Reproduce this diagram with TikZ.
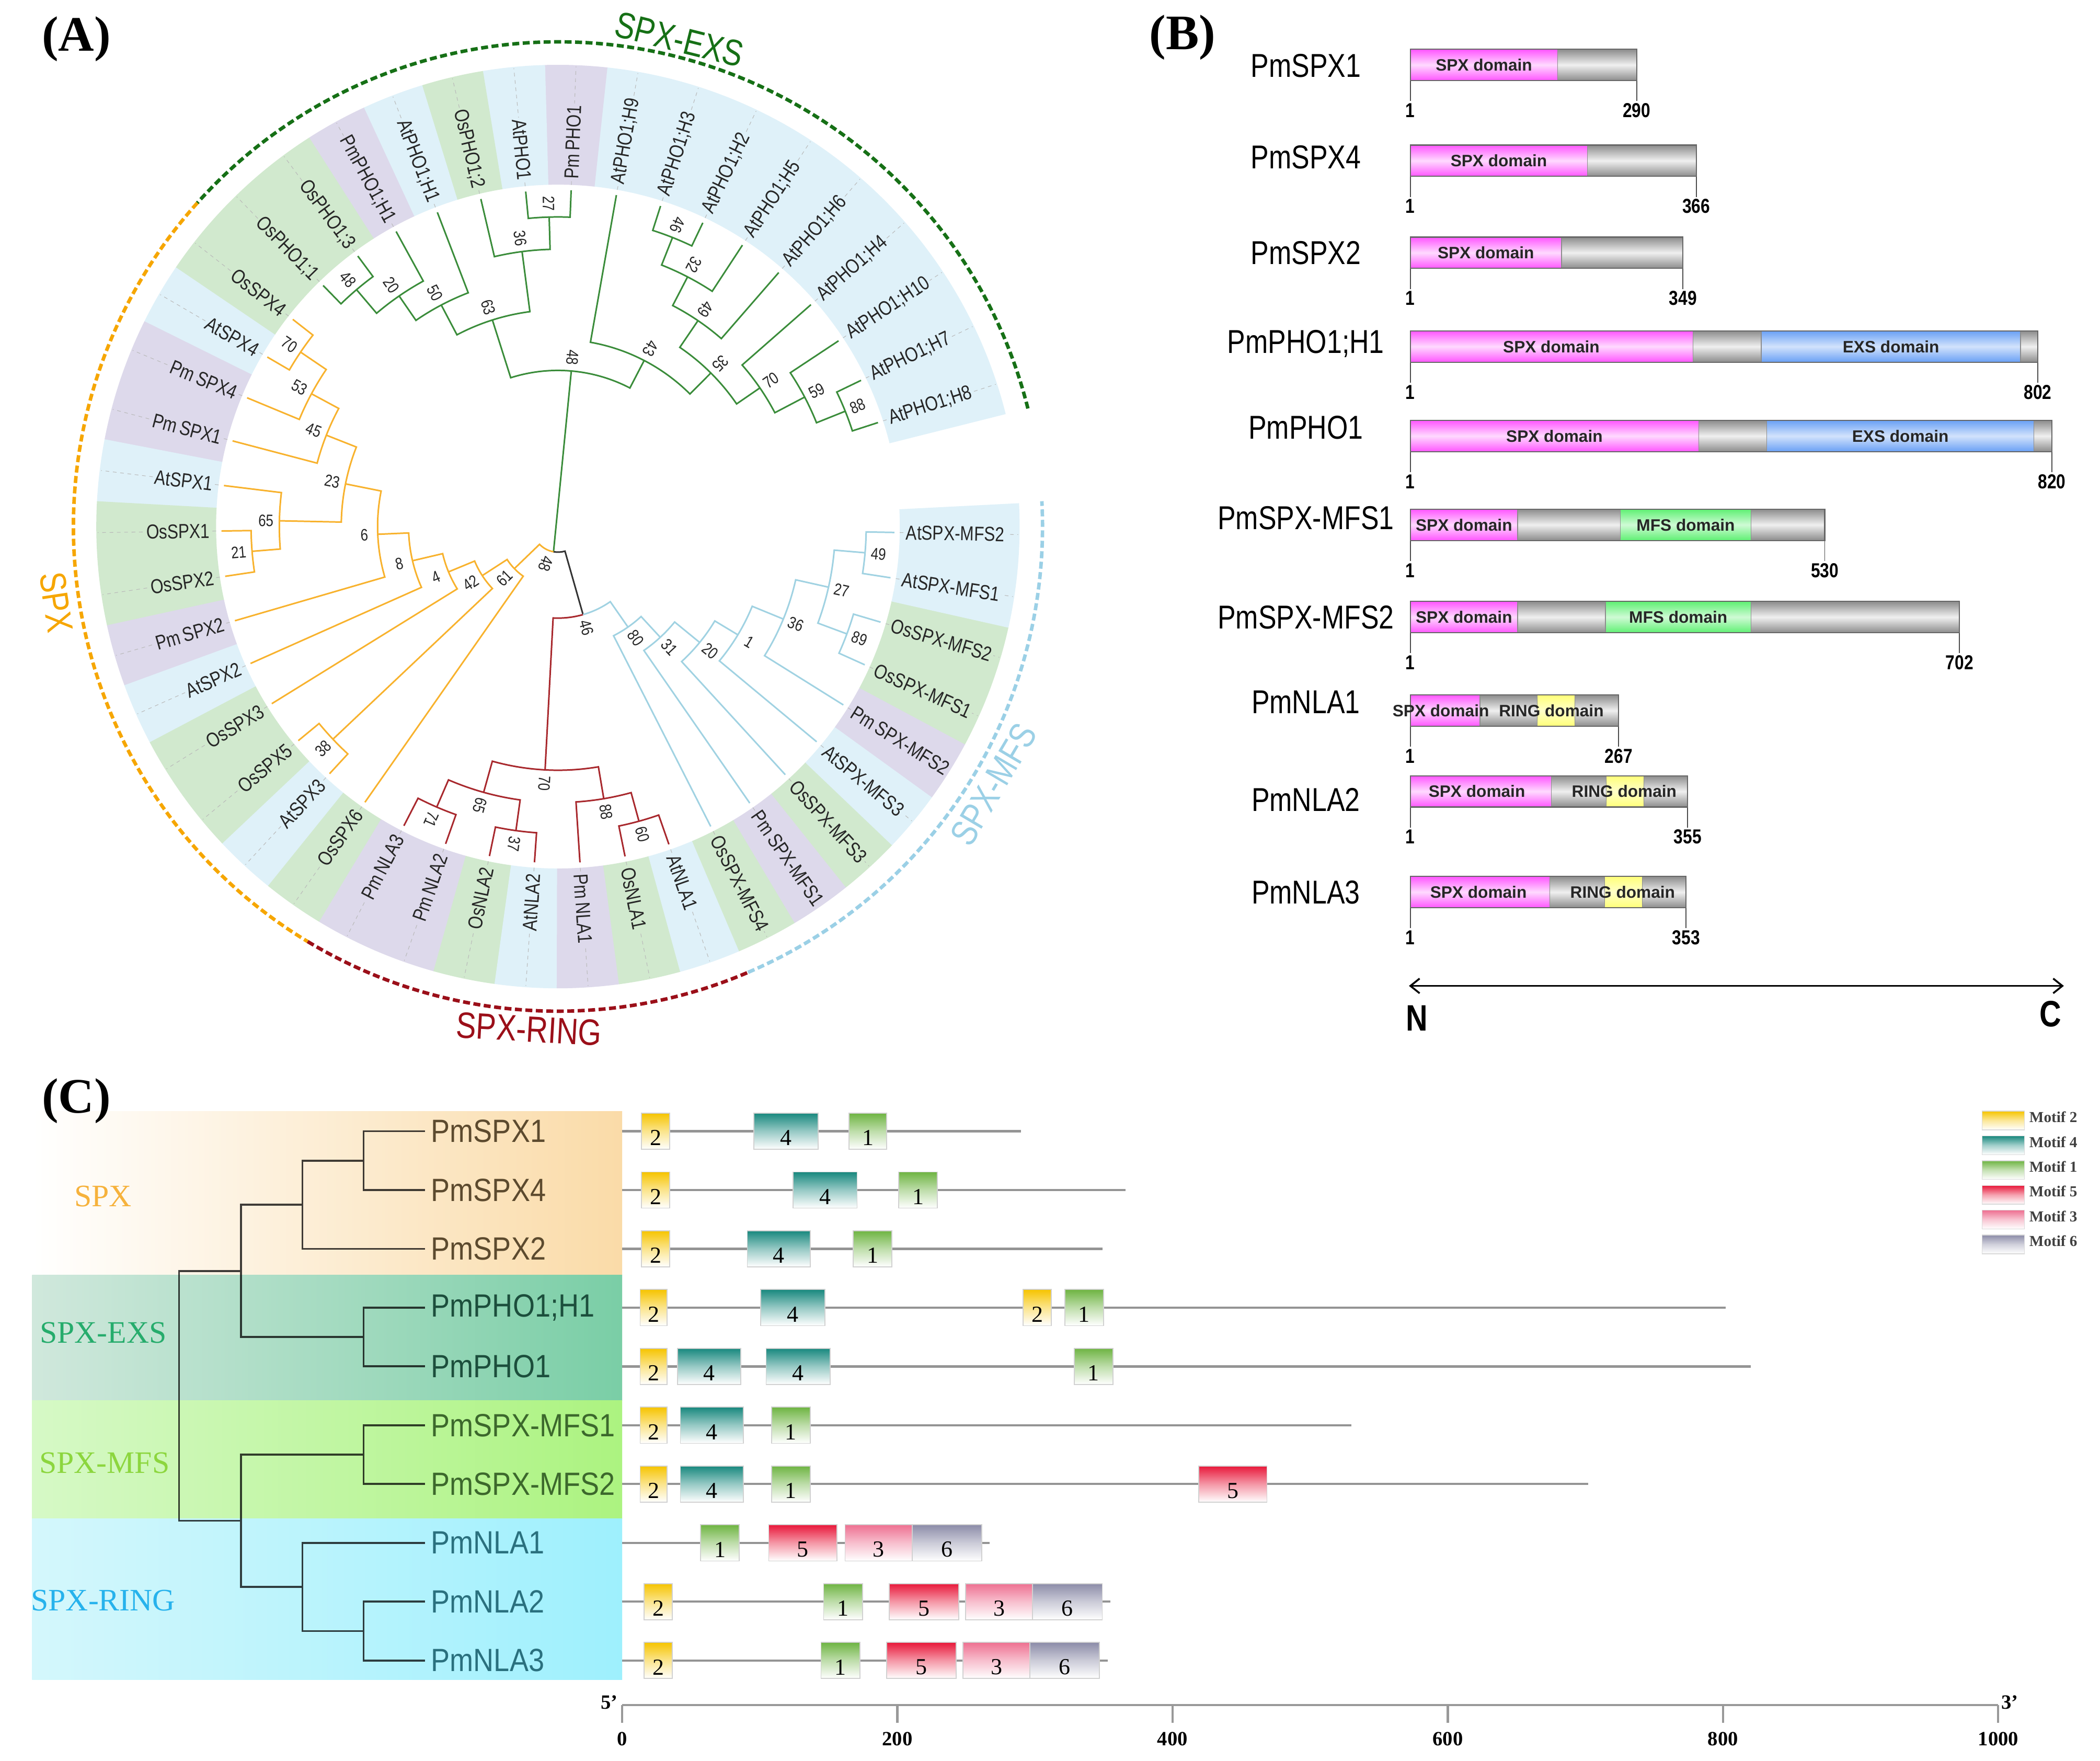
\documentclass[tikz,border=0pt]{standalone}
\usepackage{fontspec}
\setmainfont{Liberation Serif}
\setsansfont{Liberation Sans}
\newfontfamily\condsans[FakeStretch=0.82]{Liberation Sans}
\newfontfamily\condC[FakeStretch=0.88]{Liberation Sans}
\usetikzlibrary{arrows.meta}

% one clade of the circular tree: child a (angle, radius), child b, node radius
\newcommand\clade[6]{\draw[#6] (#1:#2) -- (#1:#5) arc[start angle=#1, end angle=#3, radius=#5] -- (#3:#4);}
% x position of residue in panel B
\newcommand\bx[1]{1053+0.585*(#1-1)}
\newcommand\dom[4]{\shade[#4] ({\bx{#1}},{#3-11.7}) rectangle ({\bx{#2}},{#3+11.7});}

\begin{document}
\begin{tikzpicture}[x=0.025619cm, y=-0.025619cm]

  \definecolor{At}{RGB}{223,241,249}
  \definecolor{Os}{RGB}{209,233,206}
  \definecolor{Pm}{RGB}{221,217,235}
  \definecolor{exsline}{RGB}{58,140,58}
  \definecolor{spxline}{RGB}{248,178,45}
  \definecolor{ringline}{RGB}{168,40,45}
  \definecolor{mfsline}{RGB}{160,210,226}
  \definecolor{exsdash}{RGB}{22,112,22}
  \definecolor{spxdash}{RGB}{246,166,0}
  \definecolor{ringdash}{RGB}{155,15,25}
  \definecolor{mfsdash}{RGB}{155,208,230}
  \definecolor{spxpink}{RGB}{255,85,255}
  \definecolor{exsblue}{RGB}{105,160,245}
  \definecolor{mfsgreen}{RGB}{95,240,115}
  \definecolor{ringyel}{RGB}{255,255,120}
  \definecolor{bargrey}{RGB}{140,140,140}
  \definecolor{mot2}{RGB}{246,196,0}
  \definecolor{mot4}{RGB}{24,136,126}
  \definecolor{mot1}{RGB}{110,180,66}
  \definecolor{mot5}{RGB}{232,24,58}
  \definecolor{mot3}{RGB}{238,112,145}
  \definecolor{mot6}{RGB}{140,140,168}
  \definecolor{spxband}{RGB}{250,219,168}
  \definecolor{exsL}{RGB}{208,232,220}
  \definecolor{exsR}{RGB}{122,206,166}
  \definecolor{mfsL}{RGB}{214,249,198}
  \definecolor{mfsR}{RGB}{172,243,128}
  \definecolor{ringL}{RGB}{212,247,252}
  \definecolor{ringR}{RGB}{158,240,253}
  \definecolor{spxtxt}{RGB}{246,178,60}
  \definecolor{exstxt}{RGB}{38,172,108}
  \definecolor{mfstxt}{RGB}{140,214,62}
  \definecolor{ringtxt}{RGB}{38,178,236}
  \definecolor{spxleaf}{RGB}{92,74,46}
  \definecolor{exsleaf}{RGB}{28,78,60}
  \definecolor{mfsleaf}{RGB}{60,104,44}
  \definecolor{ringleaf}{RGB}{42,112,126}

  \tikzset{
    panel/.style={font=\rmfamily\bfseries\fontsize{27}{30}\selectfont, inner sep=0pt},
    leaf/.style={font=\condsans\fontsize{11}{12}\selectfont, text=black!85, inner sep=1pt},
    boot/.style={font=\condsans\fontsize{9}{10}\selectfont, text=black!85, inner sep=0.5pt},
    grplab/.style={font=\condsans\fontsize{20}{22}\selectfont, inner sep=0pt},
    guide/.style={gray!55, line width=0.3pt, dash pattern=on 2pt off 2pt},
    grpdash/.style={line width=1.9pt, dash pattern=on 3.8pt off 1.9pt},
    exsbr/.style={exsline, line width=0.85pt},
    spxbr/.style={spxline, line width=0.85pt},
    ringbr/.style={ringline, line width=0.85pt},
    mfsbr/.style={mfsline, line width=0.85pt},
    rootbr/.style={black!80, line width=0.85pt},
    bname/.style={font=\condsans\fontsize{18}{20}\selectfont, inner sep=0pt},
    bnum/.style={font=\condsans\bfseries\fontsize{11}{12}\selectfont, inner sep=0pt},
    domtxt/.style={font=\sffamily\bfseries\fontsize{9}{10}\selectfont, text=black!85, inner sep=0pt},
    greydom/.style={top color=bargrey, bottom color=bargrey, middle color=black!6},
    spxdom/.style={top color=spxpink, bottom color=spxpink, middle color=spxpink!22, draw=black!45, line width=0.4pt},
    exsdom/.style={top color=exsblue, bottom color=exsblue, middle color=exsblue!30, draw=black!45, line width=0.4pt},
    mfsdom/.style={top color=mfsgreen, bottom color=mfsgreen, middle color=mfsgreen!30, draw=black!45, line width=0.4pt},
    ringdom/.style={top color=ringyel, bottom color=ringyel, middle color=ringyel!40, draw=black!45, line width=0.4pt},
    barline/.style={draw=black!60, line width=0.6pt},
    btick/.style={black!70, line width=0.5pt},
    ncfont/.style={font=\condsans\bfseries\fontsize{20}{22}\selectfont, inner sep=0pt},
    grpC/.style={font=\rmfamily\fontsize{17}{19}\selectfont, inner sep=0pt},
    leafC/.style={font=\condC\fontsize{17.5}{19}\selectfont, inner sep=3pt, anchor=west},
    ctree/.style={draw=black, draw opacity=0.75, line width=1.1pt},
    protline/.style={draw=black!42, line width=1.2pt},
    motnum/.style={font=\rmfamily\fontsize{12.5}{14}\selectfont, inner sep=0pt},
    legtxt/.style={font=\rmfamily\bfseries\fontsize{8.3}{9}\selectfont, text=black!75, inner sep=0pt, anchor=west},
    axline/.style={draw=black!40, line width=1.2pt},
    axnum/.style={font=\rmfamily\bfseries\fontsize{11}{12}\selectfont, inner sep=0pt}
  }

  \fill[white] (0,0) rectangle (1568,1314.6);
  \useasboundingbox (0,0) rectangle (1568,1314.6);

  %% (A) circular tree
  \node[panel] (labA) at (57,29) {(A)};
  \begin{scope}[shift={(416.6,393.1)}, y=0.025619cm, scale=1.005]
    % label wedges and leaf names
    \foreach \kk/\spc/\lab in {0/At/AtPHO1;H8, 1/At/AtPHO1;H7, 2/At/AtPHO1;H10, 3/At/AtPHO1;H4,
        4/At/AtPHO1;H6, 5/At/AtPHO1;H5, 6/At/AtPHO1;H2, 7/At/AtPHO1;H3, 8/At/AtPHO1;H9,
        9/Pm/Pm\,PHO1, 10/At/AtPHO1, 11/Os/OsPHO1;2, 12/At/AtPHO1;H1, 13/Pm/PmPHO1;H1,
        14/Os/OsPHO1;3, 15/Os/OsPHO1;1, 16/Os/OsSPX4, 17/At/AtSPX4, 18/Pm/Pm\,SPX4,
        19/Pm/Pm\,SPX1, 20/At/AtSPX1, 21/Os/OsSPX1, 22/Os/OsSPX2, 23/Pm/Pm\,SPX2,
        24/At/AtSPX2, 25/Os/OsSPX3, 26/Os/OsSPX5, 27/At/AtSPX3, 28/Os/OsSPX6,
        29/Pm/Pm\,NLA3, 30/Pm/Pm\,NLA2, 31/Os/OsNLA2, 32/At/AtNLA2, 33/Pm/Pm\,NLA1,
        34/Os/OsNLA1, 35/At/AtNLA1, 36/Os/OsSPX-MFS4, 37/Pm/Pm\,SPX-MFS1, 38/Os/OsSPX-MFS3,
        39/At/AtSPX-MFS3, 40/Pm/Pm\,SPX-MFS2, 41/Os/OsSPX-MFS1, 42/Os/OsSPX-MFS2,
        43/At/AtSPX-MFS1, 44/At/AtSPX-MFS2} {
      \pgfmathsetmacro\leafang{18+7.75*\kk}
      \pgfmathsetmacro\angL{\leafang-3.9}
      \pgfmathsetmacro\angR{\leafang+3.9}
      \fill[\spc] (\angL:254) arc[start angle=\angL, end angle=\angR, radius=254]
        -- (\angR:343) arc[start angle=\angR, end angle=\angL, radius=343] -- cycle;
      \draw[guide] (\leafang:254) -- (\leafang:342);
      \pgfmathtruncatemacro\flip{(\leafang>90)&&(\leafang<270)}
      \ifnum\flip=1
        \node[leaf, fill=\spc, rotate=\leafang-180, anchor=east] (L\kk) at (\leafang:257) {\lab};
      \else
        \node[leaf, fill=\spc, rotate=\leafang, anchor=west] (L\kk) at (\leafang:257) {\lab};
      \fi
    }

    % SPX-EXS clade
    \clade{18}{250}{25.75}{250}{230}{exsbr}
    \clade{21.875}{230}{33.5}{250}{207}{exsbr}
    \clade{27.69}{207}{41.25}{250}{182}{exsbr}
    \clade{64.5}{250}{72.25}{250}{231}{exsbr}
    \clade{56.75}{250}{68.375}{231}{209}{exsbr}
    \clade{49}{250}{62.56}{209}{185}{exsbr}
    \clade{34.47}{182}{55.78}{185}{161}{exsbr}
    \clade{45.125}{161}{80}{250}{139}{exsbr}
    \clade{87.75}{250}{95.5}{250}{230}{exsbr}
    \clade{91.625}{230}{103.25}{250}{206}{exsbr}
    \clade{126.5}{250}{134.25}{250}{231}{exsbr}
    \clade{118.75}{250}{130.375}{231}{208}{exsbr}
    \clade{111}{250}{124.56}{208}{186}{exsbr}
    \clade{97.44}{206}{117.78}{186}{161}{exsbr}
    \clade{62.56}{139}{107.61}{161}{116}{exsbr}
    \draw[exsbr] (260:19) -- (85.09:116);

    % SPX clade
    \clade{142}{250}{149.75}{250}{231}{spxbr}
    \clade{145.875}{231}{157.5}{250}{208}{spxbr}
    \clade{151.69}{208}{165.25}{250}{185}{spxbr}
    \clade{180.75}{250}{188.5}{250}{228}{spxbr}
    \clade{173}{250}{184.625}{228}{207}{spxbr}
    \clade{158.47}{185}{178.81}{207}{161}{spxbr}
    \clade{168.64}{161}{196.25}{250}{134}{spxbr}
    \clade{182.45}{134}{204}{250}{111}{spxbr}
    \clade{193.22}{111}{211.75}{250}{88}{spxbr}
    \clade{219.5}{250}{227.25}{250}{230}{spxbr}
    \clade{202.49}{88}{223.375}{230}{67}{spxbr}
    \clade{212.93}{67}{235}{250}{45}{spxbr}
    \draw[spxbr] (223.97:45) -- (223.97:19) arc[start angle=223.97, end angle=260, radius=19];
    \draw[rootbr] (260:19) arc[start angle=260, end angle=285.92, radius=19] -- (285.92:68);

    % SPX-RING clade
    \clade{242.75}{250}{250.5}{250}{227}{ringbr}
    \clade{258.25}{250}{266}{250}{228}{ringbr}
    \clade{246.625}{227}{262.125}{228}{205}{ringbr}
    \clade{281.5}{250}{289.25}{250}{227}{ringbr}
    \clade{273.75}{250}{285.375}{227}{205}{ringbr}
    \clade{254.375}{205}{279.56}{205}{181}{ringbr}
    \draw[ringbr] (266.97:181) -- (266.97:68) arc[start angle=266.97, end angle=285.92, radius=68];
    \draw[mfsbr] (285.92:68) arc[start angle=285.92, end angle=304.87, radius=68] -- (304.87:91);

    % SPX-MFS clade
    \clade{351.25}{250}{359}{250}{229}{mfsbr}
    \clade{335.75}{250}{343.5}{250}{229}{mfsbr}
    \clade{339.625}{229}{355.125}{229}{206}{mfsbr}
    \clade{328}{250}{347.375}{206}{181}{mfsbr}
    \clade{320.25}{250}{337.69}{181}{156}{mfsbr}
    \clade{312.5}{250}{328.97}{156}{136}{mfsbr}
    \clade{304.75}{250}{320.73}{136}{112}{mfsbr}
    \clade{297}{250}{312.74}{112}{91}{mfsbr}

    % bootstrap values
    \foreach \nm/\ang/\rad/\val in {bA/21.875/230/88, bB/27.69/207/59, bC/34.47/182/70,
        bD/68.375/231/46, bE/62.56/209/32, bF/55.78/185/49, bG/45.125/161/35, bH/62.56/139/43,
        bI/91.625/230/27, bJ/97.44/206/36, bK/130.375/231/48, bL/124.56/208/20, bM/117.78/186/50,
        bN/107.61/161/63, bO/85.09/116/48, bP/145.875/231/70, bQ/151.69/208/53, bR/158.47/185/45,
        bS/184.625/228/21, bT/178.81/207/65, bU/168.64/161/23, bV/182.45/134/6, bW/193.22/111/8,
        bX/202.49/88/4, bY/223.375/230/38, bZ/212.93/67/42, ba/223.97/45/61, bb/252/19/48,
        bc/246.625/227/71, bd/262.125/228/37, be/254.375/205/65, bf/285.375/227/60,
        bg/279.56/205/88, bh/266.97/181/70, bi/285.92/68/46, bj/355.125/229/49,
        bk/339.625/229/89, bl/347.375/206/27, bm/337.69/181/36, bn/328.97/156/1,
        bo/320.73/136/20, bp/312.74/112/31, bq/304.87/91/80} {
      \pgfmathsetmacro\br{\rad+10}
      \pgfmathsetmacro\bA{(\ang<45)*\ang + (\ang>45)*(\ang<225)*(\ang-180) + (\ang>225)*(\ang-360)}
      \node[boot, rotate=\bA] (\nm) at (\ang:\br) {\val};
    }

    % group arcs
    \draw[grpdash, exsdash] (14.1:360) arc[start angle=14.1, end angle=138.1, radius=360];
    \draw[grpdash, spxdash] (138.1:360) arc[start angle=138.1, end angle=238.9, radius=360];
    \draw[grpdash, ringdash] (238.9:360) arc[start angle=238.9, end angle=293.1, radius=360];
    \draw[grpdash, mfsdash] (293.1:360) arc[start angle=293.1, end angle=363, radius=360];
    \node[grplab, text=exsdash, rotate=-14] (gEXS) at (76:373) {SPX-EXS};
    \node[grplab, text=spxdash, rotate=-81.4] (gSPX) at (188.6:377) {SPX};
    \node[grplab, text=ringdash, rotate=-3.3] (gRING) at (266.7:374) {SPX-RING};
    \node[grplab, text=mfsdash, rotate=59.4] (gMFS) at (329.4:376) {SPX-MFS};
  \end{scope}

  %% (B) domain architecture
  \node[panel] (labB) at (883,28) {(B)};
  \foreach \idx/\y/\ny/\nm/\len in {1/48.5/49/PmSPX1/290, 2/120/117.5/PmSPX4/366,
      3/188.7/188.7/PmSPX2/349, 4/258.7/256.6/PmPHO1;H1/802, 5/325.5/319/PmPHO1/820,
      6/391.8/386.7/PmSPX-MFS1/530, 7/460.7/460.7/PmSPX-MFS2/702, 8/530.5/524/PmNLA1/267,
      9/590.8/597/PmNLA2/355, 10/666/666/PmNLA3/353} {
    \pgfmathsetmacro\ex{\bx{\len}}
    \dom{1}{\len}{\y}{greydom}
    \node[bname] (bn\idx) at (975,\ny) {\nm};
    \draw[btick] (1053,\y+11.7) -- (1053,\y+27);
    \draw[btick] (\ex,\y+11.7) -- (\ex,\y+27);
    \node[bnum] (bs\idx) at (1053,\y+34) {1};
    \node[bnum] (be\idx) at (\ex,\y+34) {\len};
  }
  \dom{1}{189}{48.5}{spxdom}
  \dom{1}{227}{120}{spxdom}
  \dom{1}{194}{188.7}{spxdom}
  \dom{1}{362}{258.7}{spxdom} \dom{449}{780}{258.7}{exsdom}
  \dom{1}{369}{325.5}{spxdom} \dom{456}{797}{325.5}{exsdom}
  \dom{1}{138}{391.8}{spxdom} \dom{269}{436}{391.8}{mfsdom}
  \dom{1}{138}{460.7}{spxdom} \dom{250}{436}{460.7}{mfsdom}
  \dom{1}{90}{530.5}{spxdom} \dom{163}{211}{530.5}{ringdom}
  \dom{1}{181}{590.8}{spxdom} \dom{251}{299}{590.8}{ringdom}
  \dom{1}{179}{666}{spxdom} \dom{249}{297}{666}{ringdom}
  \foreach \y/\len in {48.5/290, 120/366, 188.7/349, 258.7/802, 325.5/820,
      391.8/530, 460.7/702, 530.5/267, 590.8/355, 666/353}
    \draw[barline] ({\bx{1}},\y-11.7) rectangle ({\bx{\len}},\y+11.7);
  \foreach \nm/\aa/\y/\txt in {dl1/95/48.5/SPX domain, dl2/114/120/SPX domain,
      dl3/97.5/188.7/SPX domain, dl4/181/258.7/SPX domain, dl5/614.5/258.7/EXS domain,
      dl6/185/325.5/SPX domain, dl7/626.5/325.5/EXS domain, dl8/69.5/391.8/SPX domain,
      dl9/352.5/391.8/MFS domain, dl10/69.5/460.7/SPX domain, dl11/343/460.7/MFS domain,
      dl12/40/530.5/SPX domain, dl13/181/530.5/RING domain, dl14/86/590.8/SPX domain,
      dl15/274/590.8/RING domain, dl16/88/666/SPX domain, dl17/272/666/RING domain}
    \node[domtxt] (\nm) at ({\bx{\aa}},\y) {\txt};
  \coordinate (Nend) at (1052,736);
  \coordinate (Cend) at (1541,736);
  \draw[{Straight Barb[length=5pt,width=8pt]}-{Straight Barb[length=5pt,width=8pt]}, line width=1pt] (Nend) -- (Cend);
  \node[ncfont] (Nlab) at (1058,760) {N};
  \node[ncfont] (Clab) at (1531,757) {C};

  %% (C) motifs
  \shade[left color=white, right color=spxband] (24,829.7) rectangle (464.5,951.7);
  \shade[left color=exsL, right color=exsR] (24,951.7) rectangle (464.5,1045.5);
  \shade[left color=mfsL, right color=mfsR] (24,1045.5) rectangle (464.5,1133.7);
  \shade[left color=ringL, right color=ringR] (24,1133.7) rectangle (464.5,1253.8);
  \node[panel] (labC) at (57,822) {(C)};
  \node[grpC, text=spxtxt] (cSPX) at (77,893) {SPX};
  \node[grpC, text=exstxt] (cEXS) at (77,995) {SPX-EXS};
  \node[grpC, text=mfstxt] (cMFS) at (78,1092) {SPX-MFS};
  \node[grpC, text=ringtxt] (cRING) at (77,1195) {SPX-RING};

  \foreach \idx/\nm/\col in {0/PmSPX1/spxleaf, 1/PmSPX4/spxleaf, 2/PmSPX2/spxleaf,
      3/PmPHO1;H1/exsleaf, 4/PmPHO1/exsleaf, 5/PmSPX-MFS1/mfsleaf, 6/PmSPX-MFS2/mfsleaf,
      7/PmNLA1/ringleaf, 8/PmNLA2/ringleaf, 9/PmNLA3/ringleaf}
    \node[leafC, text=\col] (t\idx) at (317.5,{844.5+43.9*\idx}) {\nm};
  \coordinate (cA) at (271.5,866.45);
  \coordinate (cB) at (225.8,899.4);
  \coordinate (cC) at (271.5,998.15);
  \coordinate (cD) at (179.8,948.8);
  \coordinate (cE) at (271.5,1085.95);
  \coordinate (cF) at (271.5,1217.65);
  \coordinate (cG) at (225.8,1184.7);
  \coordinate (cH) at (179.8,1135.3);
  \coordinate (cR) at (133.7,1042.05);
  \draw[ctree] (cA) |- (t0.west) (cA) |- (t1.west) (cB) |- (cA) (cB) |- (t2.west)
    (cC) |- (t3.west) (cC) |- (t4.west) (cD) |- (cB) (cD) |- (cC)
    (cE) |- (t5.west) (cE) |- (t6.west) (cF) |- (t8.west) (cF) |- (t9.west)
    (cG) |- (t7.west) (cG) |- (cF) (cH) |- (cE) (cH) |- (cG)
    (cR) |- (cD) (cR) |- (cH);

  \foreach \idx/\len in {0/290, 1/366, 2/349, 3/802, 4/820, 5/530, 6/702, 7/267, 8/355, 9/353}
    \draw[protline] (464.5,{844.5+43.9*\idx}) -- ({464.5+1.0275*\len},{844.5+43.9*\idx});

  \foreach \nm/\xa/\xb/\row/\col/\num in {m1/479/500/0/mot2/2, m2/563/611/0/mot4/4, m3/634/662/0/mot1/1,
      m4/479/500/1/mot2/2, m5/592/640/1/mot4/4, m6/671/700/1/mot1/1,
      m7/479/500/2/mot2/2, m8/558/605/2/mot4/4, m9/637/666/2/mot1/1,
      m10/478/498/3/mot2/2, m11/568/616/3/mot4/4, m12/764/785/3/mot2/2, m13/795/824/3/mot1/1,
      m14/478/498/4/mot2/2, m15/506/553/4/mot4/4, m16/572/620/4/mot4/4, m17/802/831/4/mot1/1,
      m18/478/498/5/mot2/2, m19/508/555/5/mot4/4, m20/576/605/5/mot1/1,
      m21/478/498/6/mot2/2, m22/508/555/6/mot4/4, m23/576/605/6/mot1/1, m24/895/946/6/mot5/5,
      m25/523/552/7/mot1/1, m26/574/625/7/mot5/5, m27/631/681/7/mot3/3, m28/681/733/7/mot6/6,
      m29/481/502/8/mot2/2, m30/615/644/8/mot1/1, m31/664/716/8/mot5/5, m32/721/771/8/mot3/3, m33/771/823/8/mot6/6,
      m34/481/502/9/mot2/2, m35/613/642/9/mot1/1, m36/662/714/9/mot5/5, m37/719/769/9/mot3/3, m38/769/821/9/mot6/6} {
    \pgfmathsetmacro\my{844.5+43.9*\row}
    \shade[top color=\col, bottom color=white, middle color=\col!45!white, draw=black!18, line width=0.5pt]
      (\xa,\my-13.5) rectangle (\xb,\my+13.5);
    \node[motnum] (\nm) at ({(\xa+\xb)/2},\my+5) {\num};
  }

  % legend
  \foreach \idx/\col/\num in {0/mot2/2, 1/mot4/4, 2/mot1/1, 3/mot5/5, 4/mot3/3, 5/mot6/6} {
    \pgfmathsetmacro\ly{834+18.5*\idx}
    \shade[top color=\col, bottom color=white, middle color=\col!40!white, draw=black!15, line width=0.4pt]
      (1480,\ly-4.5) rectangle (1511.5,\ly+9.5);
    \node[legtxt] (leg\num) at (1515,\ly) {Motif \num};
  }

  % length scale
  \coordinate (axL) at (464.5,1273);
  \coordinate (axR) at (1492,1273);
  \draw[axline] (axL) -- (axR);
  \foreach \tv in {0,200,400,600,800,1000} {
    \draw[axline] ({464.5+1.0275*\tv},1273) -- ({464.5+1.0275*\tv},1286);
    \node[axnum] (tk\tv) at ({464.5+1.0275*\tv},1298) {\tv};
  }
  \node[axnum] (five) at (455,1271) {5'};
  \node[axnum] (three) at (1500.5,1271) {3'};
\end{tikzpicture}
\end{document}
